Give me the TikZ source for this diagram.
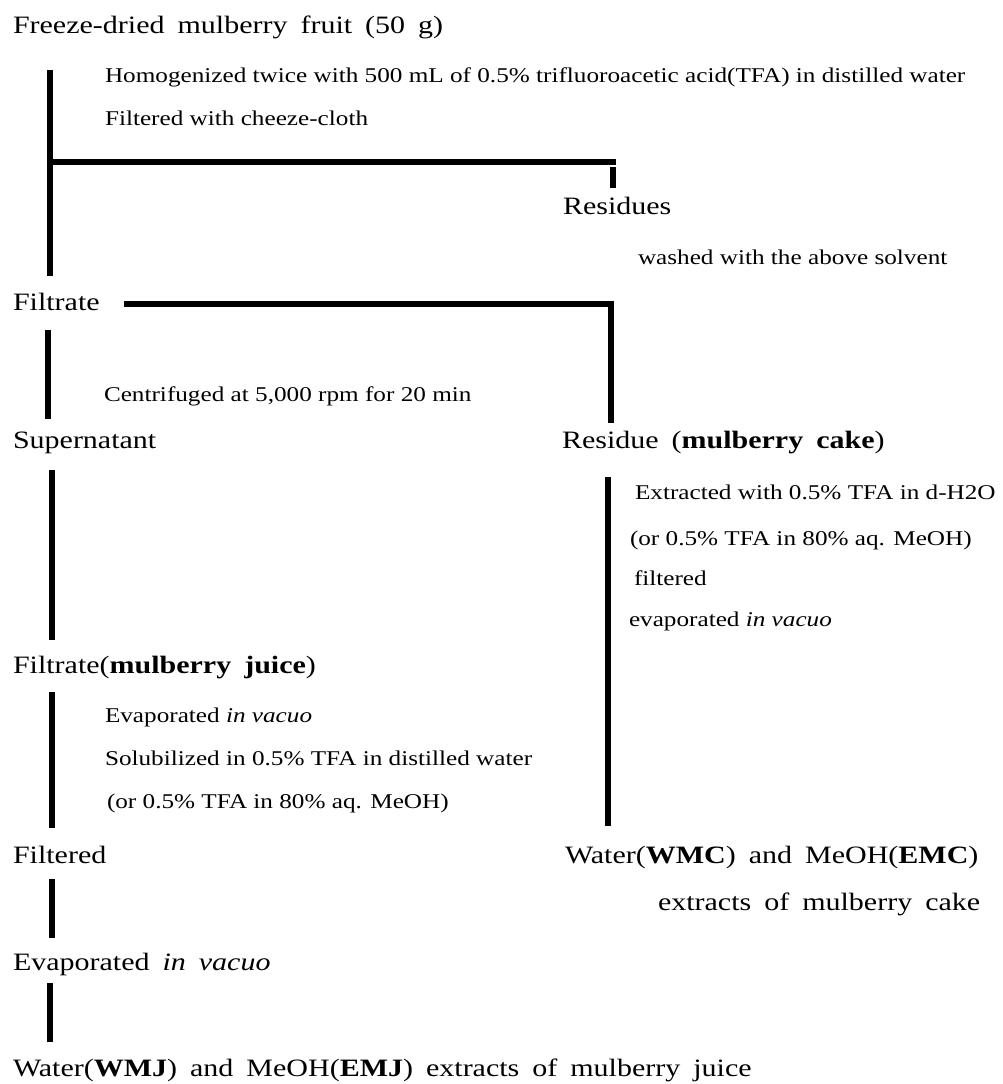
\documentclass[tikz,border=0pt]{standalone}
\usepackage{fontspec}
\setmainfont{Liberation Serif}[FakeStretch=1.2]
\newfontfamily\bigfont{Liberation Serif}[FakeStretch=1.2]
\newfontfamily\smallfont{Liberation Serif}[FakeStretch=1.2]
\newcommand\bigstyle{\bigfont\fontsize{25}{30}\selectfont\spaceskip=13pt plus 1pt minus 1pt\relax}
\newcommand\smallstyle{\smallfont\fontsize{21}{25}\selectfont}
\tikzset{
  bigtext/.style={anchor=base west, inner sep=0pt, outer sep=0pt, font=\bigstyle},
  smalltext/.style={anchor=base west, inner sep=0pt, outer sep=0pt, font=\smallstyle},
  flow/.style={line width=5.5pt, line join=miter},
}
\begin{document}
\begin{tikzpicture}[x=1pt,y=-1pt]
\useasboundingbox (0,0) rectangle (1003,1084);
% texts
\node[bigtext] (fdm) at (13,33) {Freeze-dried mulberry fruit (50 g)};
\node[smalltext] (homo) at (105,82) {Homogenized twice with 500 mL of 0.5\% trifluoroacetic acid(TFA) in distilled water};
\node[smalltext] (filtc) at (105,125) {Filtered with cheeze-cloth};
\node[bigtext] (res) at (563,214) {Residues};
\node[smalltext] (wash) at (638,264) {washed with the above solvent};
\node[bigtext] (filt) at (13,310) {Filtrate};
\node[smalltext] (cent) at (104,401) {Centrifuged at 5,000 rpm for 20 min};
\node[bigtext] (sup) at (13,448) {Supernatant};
\node[bigtext] (cake) at (562,448) {Residue (\textbf{mulberry cake})};
\node[smalltext] (ext) at (635,499) {Extracted with 0.5\% TFA in d-H2O};
\node[smalltext] (or1) at (630,545) {(or 0.5\% TFA in 80\% aq. MeOH)};
\node[smalltext] (filtr) at (634,585) {filtered};
\node[smalltext] (evr) at (629,626) {evaporated \textit{in vacuo}};
\node[bigtext] (juice) at (13,673) {Filtrate(\textbf{mulberry juice})};
\node[smalltext] (evl) at (105,722) {Evaporated \textit{in vacuo}};
\node[smalltext] (solu) at (105,765) {Solubilized in 0.5\% TFA in distilled water};
\node[smalltext] (or2) at (107,808) {(or 0.5\% TFA in 80\% aq. MeOH)};
\node[bigtext] (filtd) at (13,863) {Filtered};
\node[bigtext] (wmc) at (565,863) {Water(\textbf{WMC}) and MeOH(\textbf{EMC})};
\node[bigtext] (extc) at (658,910) {extracts of mulberry cake};
\node[bigtext] (evap) at (13,970) {Evaporated \textit{in vacuo}};
\node[bigtext] (wmj) at (13,1076) {Water(\textbf{WMJ}) and MeOH(\textbf{EMJ}) extracts of mulberry juice};
% connector end points
\coordinate (a1) at (50,70);
\coordinate (a2) at (50,276);
\coordinate (j1) at (50,162);
\coordinate (h1) at (616,162);
\coordinate (s1) at (613,167);
\coordinate (s2) at (613,188);
\coordinate (f1) at (124,304);
\coordinate (f2) at (611,304);
\coordinate (f3) at (611,423);
\coordinate (b1) at (48,330);
\coordinate (b2) at (48,419);
\coordinate (c1) at (52,470);
\coordinate (c2) at (52,640);
\coordinate (r1) at (608,477);
\coordinate (r2) at (608,826);
\coordinate (d1) at (52,692);
\coordinate (d2) at (52,828);
\coordinate (e1) at (52,879);
\coordinate (e2) at (52,938);
\coordinate (g1) at (50,983);
\coordinate (g2) at (50,1042);
% connectors
\draw[flow] (a1) -- (a2);
\draw[flow] (j1) -- (h1);
\draw[flow] (s1) -- (s2);
\draw[flow] (f1) -- (f2) -- (f3);
\draw[flow] (b1) -- (b2);
\draw[flow] (c1) -- (c2);
\draw[flow] (r1) -- (r2);
\draw[flow] (d1) -- (d2);
\draw[flow] (e1) -- (e2);
\draw[flow] (g1) -- (g2);
\end{tikzpicture}
\end{document}
